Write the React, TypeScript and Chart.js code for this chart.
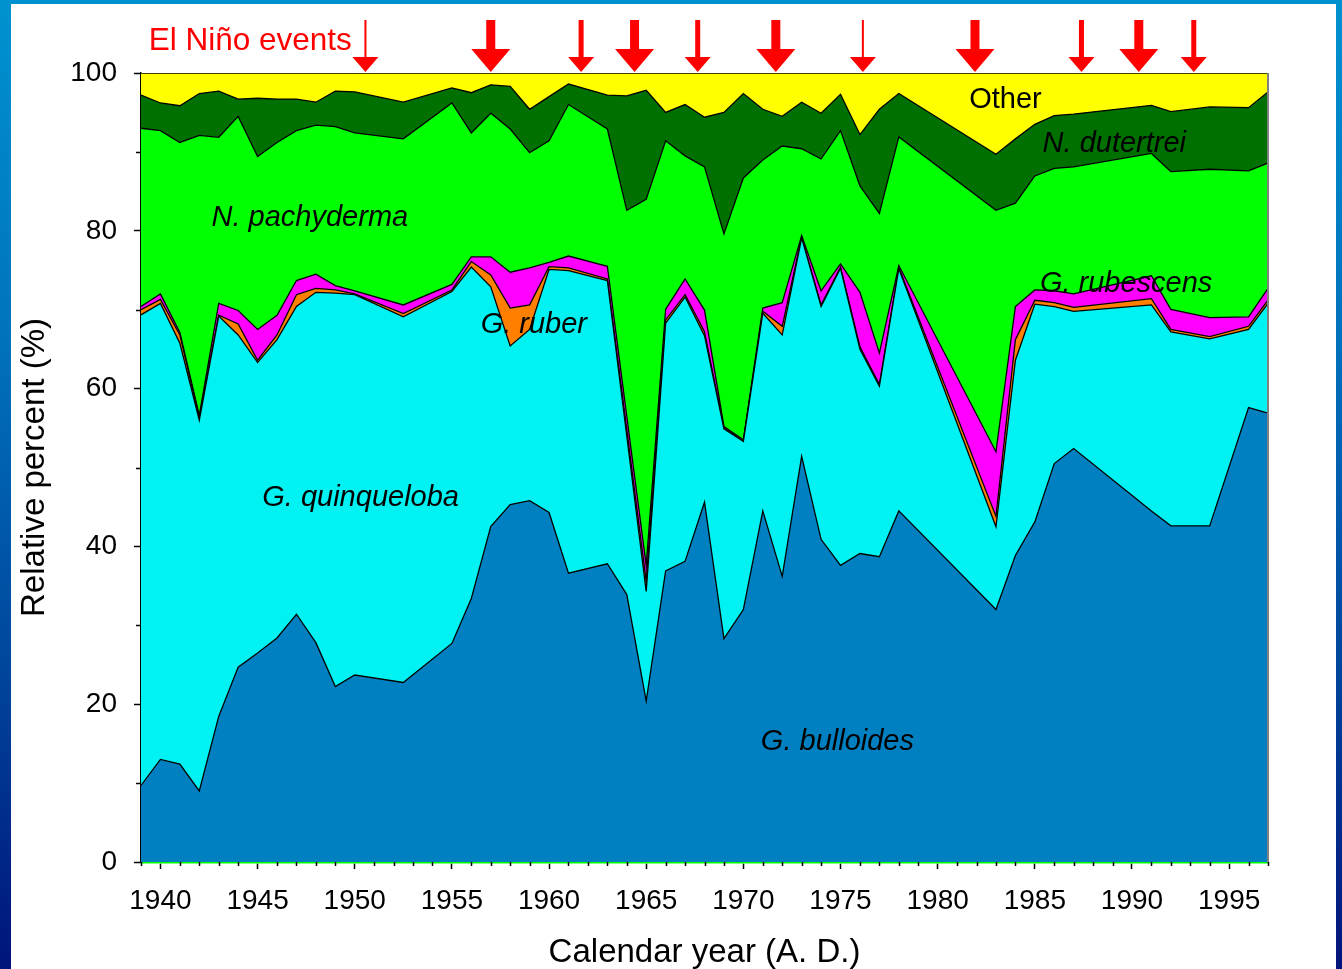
import { useEffect, useRef } from "react";
import { Chart, registerables } from "chart.js";
Chart.register(...registerables);

const FONT = "Arial, 'Liberation Sans', Helvetica, sans-serif";

// Sample years (A.D.)
const years = [1939, 1940, 1941, 1942, 1943, 1944, 1945, 1946, 1947, 1948, 1949, 1950, 1952.5, 1955, 1956, 1957, 1958, 1959, 1960, 1961, 1963, 1964, 1965, 1966, 1967, 1968, 1969, 1970, 1971, 1972, 1973, 1974, 1975, 1976, 1977, 1978, 1983, 1984, 1985, 1986, 1987, 1991, 1992, 1994, 1996, 1997];

// Relative percent of each species (stacked bottom to top)
const bulloides = [9.7, 13.0, 12.4, 9.0, 18.45, 24.7, 26.5, 28.4, 31.4, 27.8, 22.25, 23.7, 22.75, 27.7, 33.4, 42.5, 45.3, 45.8, 44.3, 36.6, 37.8, 33.9, 20.4, 36.9, 38.1, 45.6, 28.3, 32.0, 44.5, 36.2, 51.4, 40.9, 37.6, 39.1, 38.7, 44.5, 32.0, 38.85, 43.1, 50.5, 52.4, 44.5, 42.6, 42.6, 57.6, 56.9];
const quinqueloba = [59.65, 57.8, 53.35, 47.0, 50.75, 42.1, 36.8, 37.8, 39.0, 44.4, 49.85, 48.2, 46.35, 44.6, 42.0, 30.4, 20.1, 21.7, 30.8, 38.35, 35.9, 20.1, 13.9, 31.4, 33.5, 21.1, 26.6, 21.3, 25.05, 30.6, 27.7, 29.5, 37.65, 25.9, 21.6, 30.7, 10.5, 24.75, 27.6, 19.9, 17.4, 26.1, 24.6, 23.7, 9.9, 13.9];
const ruber = [0.65, 0.5, 1.05, 0.3, 0.1, 1.4, 0.3, 0.6, 1.5, 0.5, 0.4, 0.1, 0.4, 0.2, 0.7, 1.5, 4.8, 3.1, 0.35, 0.35, 0.2, 0.8, 1.3, 0.4, 0.3, 0.5, 0.1, 0.1, 0.25, 1.1, 0.1, 0.2, 0.15, 0.3, 0.2, 0.15, 1.3, 2.6, 0.5, 0.5, 0.5, 0.8, 0.3, 0.3, 0.4, 0.4];
const rubescens = [0.4, 0.7, 0.3, 0.3, 1.5, 1.7, 3.9, 2.5, 1.8, 1.8, 0.55, 0.4, 1.1, 0.7, 0.6, 2.3, 4.55, 4.7, 0.55, 1.5, 1.6, 1.7, 2.0, 1.35, 2.0, 2.75, 0.2, 0.1, 0.4, 3.0, 0.2, 1.8, 0.4, 6.9, 4.0, 0.25, 8.2, 4.2, 1.3, 1.5, 1.7, 2.9, 2.55, 2.4, 1.2, 1.5];
const pachyderma = [22.6, 20.7, 24.1, 35.5, 21.05, 24.6, 21.9, 21.9, 19.0, 18.9, 20.15, 20.0, 21.05, 23.0, 15.7, 18.2, 18.15, 14.6, 15.4, 19.2, 17.4, 26.1, 46.4, 21.35, 15.6, 18.15, 24.4, 33.2, 18.78, 19.85, 11.0, 16.7, 16.9, 13.5, 17.7, 16.3, 30.6, 13.1, 14.45, 15.5, 16.1, 15.5, 17.45, 18.8, 18.5, 15.9];
const dutertrei = [4.2, 3.5, 4.65, 5.3, 5.85, 2.2, 7.4, 5.5, 4.0, 2.9, 4.5, 5.2, 4.65, 1.9, 5.1, 3.6, 5.4, 5.5, 5.6, 2.6, 4.3, 14.5, 13.8, 3.6, 6.5, 6.3, 15.4, 10.7, 6.42, 3.75, 5.9, 5.8, 4.6, 6.5, 13.2, 5.5, 7.1, 8.15, 6.55, 6.7, 6.7, 6.1, 7.6, 7.9, 8.0, 9.0];
const other = [2.8, 3.8, 4.15, 2.6, 2.3, 3.3, 3.2, 3.3, 3.3, 3.7, 2.3, 2.4, 3.7, 1.9, 2.5, 1.5, 1.7, 4.6, 3.0, 1.4, 2.8, 2.9, 2.2, 5.0, 4.0, 5.6, 5.0, 2.6, 4.6, 5.5, 3.7, 5.1, 2.7, 7.8, 4.6, 2.6, 10.3, 8.35, 6.5, 5.4, 5.2, 4.1, 4.9, 4.3, 4.4, 2.4];

const seriesNames = ["G. bulloides", "G. quinqueloba", "G. ruber", "G. rubescens", "N. pachyderma", "N. dutertrei", "Other"];
const seriesValues = [bulloides, quinqueloba, ruber, rubescens, pachyderma, dutertrei, other];
const seriesColors = ["#0080C0", "#00F2F2", "#FF8000", "#FF00FF", "#00FF00", "#007000", "#FFFF00"];

// El Niño events: year and strength (1 weak, 2 moderate, 3 strong)
const ninoYears = [1950.55, 1957.0, 1961.65, 1964.4, 1967.65, 1971.67, 1976.15, 1981.92, 1987.4, 1990.35, 1993.18];
const ninoStrength = [1, 3, 2, 3, 2, 3, 1, 3, 2, 3, 2];

// In-plot labels (left x in years, baseline in percent)
const labelTexts = ["N. pachyderma", "G. ruber", "G. quinqueloba", "G. bulloides", "Other", "N. dutertrei", "G. rubescens"];
const labelYears = [1942.63, 1956.48, 1945.24, 1970.9, 1981.62, 1985.4, 1985.26];
const labelValues = [80.65, 67.06, 45.14, 14.14, 95.53, 90.03, 72.22];
const labelItalic = [true, true, true, true, false, true, true];

const xTitle = "Calendar year (A. D.)";
const yTitle = "Relative percent (%)";
const eventsTitle = "El Niño events";

const overlayPlugin = {
  id: "overlay",
  afterDraw(chart: any) {
    const { ctx, chartArea } = chart;
    const xs = chart.scales.x;
    const ys = chart.scales.y;
    ctx.save();
    // right frame line
    ctx.strokeStyle = "#808080";
    ctx.lineWidth = 2;
    ctx.beginPath();
    ctx.moveTo(chartArea.right, chartArea.top);
    ctx.lineTo(chartArea.right, chartArea.bottom);
    ctx.stroke();
    // minor ticks
    ctx.strokeStyle = "#000";
    ctx.lineWidth = 1.5;
    ctx.beginPath();
    for (let yr = 1939; yr <= 1997; yr++) {
      if (yr % 5 === 0) continue;
      const px = Math.round(xs.getPixelForValue(yr)) + 0.5;
      ctx.moveTo(px, chartArea.bottom);
      ctx.lineTo(px, chartArea.bottom + 4);
    }
    for (let v = 10; v < 100; v += 20) {
      const py = Math.round(ys.getPixelForValue(v)) + 0.5;
      ctx.moveTo(chartArea.left, py);
      ctx.lineTo(chartArea.left - 5, py);
    }
    ctx.stroke();

    // labels
    ctx.fillStyle = "#000";
    ctx.textAlign = "left";
    ctx.textBaseline = "alphabetic";
    labelTexts.forEach((t, i) => {
      ctx.font = `${labelItalic[i] ? "italic " : ""}29px ${FONT}`;
      ctx.fillText(t, xs.getPixelForValue(labelYears[i]), ys.getPixelForValue(labelValues[i]));
    });

    // El Niño arrows
    ctx.fillStyle = "#FF0000";
    const tipY = chartArea.top - 1;
    const topY = chartArea.top - 53;
    ninoYears.forEach((yr, i) => {
      const s = ninoStrength[i];
      const cx = xs.getPixelForValue(yr);
      const shaft = s === 1 ? 2 : s === 2 ? 5 : 9;
      const hw = s === 3 ? 39 : 26;
      const hh = s === 3 ? 23 : 15;
      ctx.fillRect(cx - shaft / 2, topY, shaft, tipY - hh - topY + 1);
      ctx.beginPath();
      ctx.moveTo(cx - hw / 2, tipY - hh);
      ctx.lineTo(cx + hw / 2, tipY - hh);
      ctx.lineTo(cx, tipY);
      ctx.closePath();
      ctx.fill();
    });
    ctx.font = `31.5px ${FONT}`;
    ctx.textAlign = "right";
    ctx.fillText(eventsTitle, xs.getPixelForValue(1949.85), ys.getPixelForValue(102.9));
    ctx.restore();
  },
};

export default function App() {
  const ref = useRef<HTMLCanvasElement>(null);
  useEffect(() => {
    const canvas = ref.current!;
    const datasets = seriesValues.map((vals, i) => ({
      label: seriesNames[i],
      data: years.map((x, j) => ({ x, y: vals[j] })),
      backgroundColor: seriesColors[i],
      borderColor: "#000000",
      borderWidth: 1.3,
      fill: i === 0 ? "origin" : "-1",
      pointRadius: 0,
      pointHoverRadius: 0,
      tension: 0,
    }));
    const chart = new Chart(canvas, {
      type: "line",
      data: { datasets },
      options: {
        responsive: false,
        animation: false,
        devicePixelRatio: 1,
        events: [],
        layout: { padding: { left: 0, top: 73, right: 74, bottom: 0 } },
        plugins: {
          legend: { display: false },
          tooltip: { enabled: false },
        },
        scales: {
          x: {
            type: "linear",
            min: 1939,
            max: 1997,
            z: 1,
            grid: { drawOnChartArea: false, drawTicks: true, tickLength: 7, tickColor: "#000", tickWidth: 1.5 },
            border: { display: true, color: "#00FF00", width: 2.5 },
            ticks: {
              stepSize: 5,
              includeBounds: false,
              autoSkip: false,
              maxRotation: 0,
              color: "#000",
              padding: 15,
              font: { family: FONT, size: 28 },
              callback: (v: any) => String(v),
            },
            title: {
              display: true,
              text: xTitle,
              color: "#000",
              font: { family: FONT, size: 33, lineHeight: 1 },
              padding: { top: 0, bottom: 0 },
            },
            afterFit: (s: any) => {
              s.height = 107;
            },
          },
          y: {
            stacked: true,
            min: 0,
            max: 100,
            z: 1,
            grid: { drawOnChartArea: false, drawTicks: true, tickLength: 7, tickColor: "#000", tickWidth: 1.5 },
            border: { display: true, color: "#000", width: 1.5 },
            ticks: {
              stepSize: 20,
              color: "#000",
              padding: 17,
              font: { family: FONT, size: 28 },
              callback: (v: any) => String(v),
            },
            title: {
              display: true,
              text: yTitle,
              color: "#000",
              font: { family: FONT, size: 33, lineHeight: 1 },
              padding: { top: 18, bottom: 0 },
            },
            afterFit: (s: any) => {
              s.width = 141;
            },
          },
        },
      } as any,
      plugins: [overlayPlugin],
    });
    return () => chart.destroy();
  }, []);

  return (
    <div
      style={{
        position: "fixed",
        left: 0,
        top: 0,
        width: 1342,
        height: 969,
        overflow: "hidden",
        background: "linear-gradient(to bottom, #0092D0 0%, #0072BC 35%, #00449C 70%, #00147A 100%)",
      }}
    >
      <div style={{ position: "absolute", left: 11, top: 4, width: 1325, height: 965, background: "#FFFFFF" }} />
      <canvas ref={ref} width={1342} height={969} style={{ position: "absolute", left: 0, top: 0, width: 1342, height: 969 }} />
    </div>
  );
}
